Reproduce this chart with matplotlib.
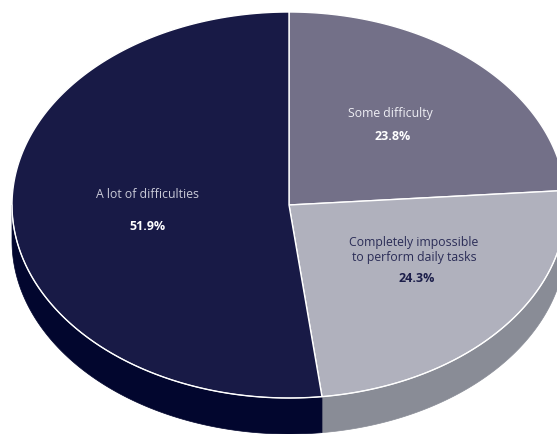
import numpy as np
import matplotlib
matplotlib.use("Agg")
from matplotlib import pyplot as plt
from matplotlib.patches import Polygon

# share of respondents per answer, clockwise from 12 o'clock
labels = ["Some difficulty", "Completely impossible\nto perform daily tasks", "A lot of difficulties"]
shares = [23.8, 24.3, 51.9]

top_colors = ["#737088", "#b0b1bd", "#181a46"]
side_colors = ["#55536a", "#898c96", "#02062e"]
name_colors = ["#eeeef4", "#2b2d57", "#c9cad8"]
pct_colors = ["#ffffff", "#1c1e4a", "#ffffff"]

# where each label block sits (pixel coords)
label_pos = [(390, 113), (414, 250), (148, 195)]
pct_pos = [(393, 137), (417, 279), (148, 226)]

W, H = 557, 434
cx, cy = 289, 205       # centre of the top face
rx, ry = 277, 193       # ellipse radii
depth = 36              # thickness of the disc

fig = plt.figure(figsize=(W / 100, H / 100), dpi=100)
ax = fig.add_axes([0, 0, 1, 1])
ax.set_xlim(0, W)
ax.set_ylim(H, 0)
ax.axis("off")


def edge(a0, a1, n=200):
    t = np.radians(np.linspace(a0, a1, n))
    return cx + rx * np.cos(t), cy - ry * np.sin(t)


# slice boundaries in math angles, going clockwise from the top
fr = np.array(shares) / sum(shares)
starts = 90 - 360 * np.concatenate([[0], np.cumsum(fr)[:-1]])
ends = starts - 360 * fr

# side wall first, only the front half (angles between -180 and 0) shows
for s, e, col in zip(starts, ends, side_colors):
    lo, hi = max(e, -180), min(s, 0)
    if lo >= hi:
        # slices wrapping past -180 also cover the left end
        lo2, hi2 = max(e + 360, -180), min(s + 360, 0)
        if lo2 >= hi2:
            continue
        lo, hi = lo2, hi2
    x, y = edge(hi, lo)
    pts = np.column_stack([np.concatenate([x, x[::-1]]),
                           np.concatenate([y, y[::-1] + depth])])
    ax.add_patch(Polygon(pts, closed=True, facecolor=col, edgecolor=col, lw=0.5))

# top face
for s, e, col in zip(starts, ends, top_colors):
    x, y = edge(s, e)
    pts = np.column_stack([np.concatenate([[cx], x]), np.concatenate([[cy], y])])
    ax.add_patch(Polygon(pts, closed=True, facecolor=col, edgecolor="white", lw=1.0,
                         joinstyle="round"))

# thin white rim along the front edge
x, y = edge(-180, 0, 400)
ax.plot(x, y, color="white", lw=0.7)

for i in range(len(shares)):
    ax.text(*label_pos[i], labels[i], ha="center", va="center", fontsize=8.8,
            family="Open Sans", color=name_colors[i], linespacing=1.2)
    ax.text(*pct_pos[i], f"{shares[i]:.1f}%", ha="center", va="center", fontsize=9,
            family="Open Sans", fontweight="bold", color=pct_colors[i])

fig.savefig("out.png", dpi=100)
